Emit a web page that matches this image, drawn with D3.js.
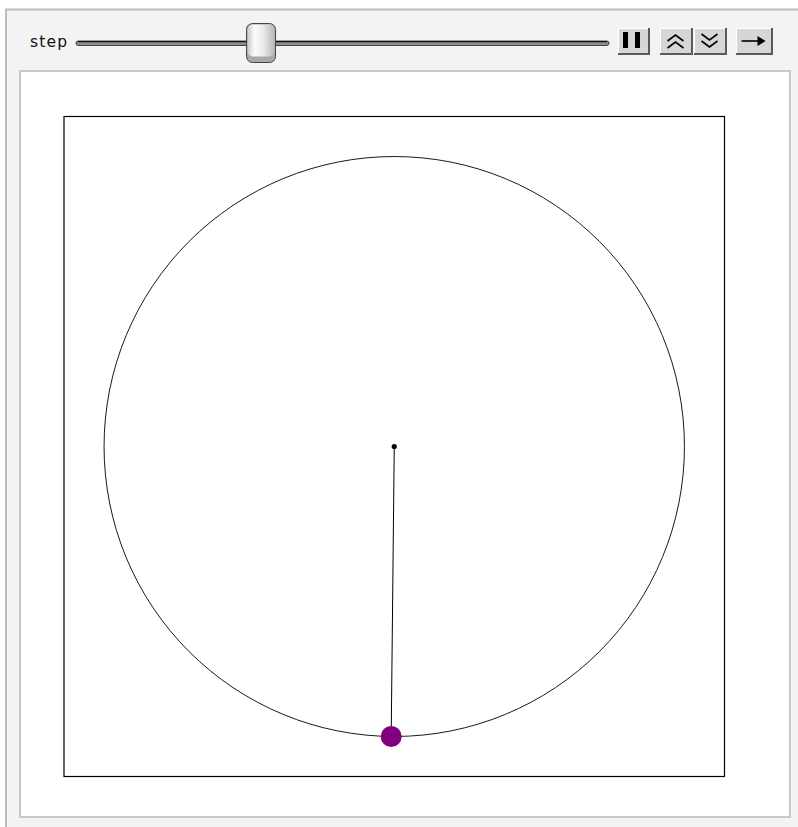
<!DOCTYPE html>
<html>
<head>
<meta charset="utf-8">
<script src="https://cdn.jsdelivr.net/npm/d3@7"></script>
<style>
    html, body { margin: 0; padding: 0; background: #ffffff; }
    svg { display: block; }
</style>
</head>
<body>
<div id="chart"></div>
<script>
// pendulum state
var pivot = [0, 0];
var rodLength = [1];
var bobAngle = [-0.0105];        // radians from straight down, negative = left
var plotRange = [-1.138, 1.138];
var stepRange = [0, 100];
var stepValue = [34];

var width = 798, height = 827;

var svg = d3.select('#chart')
    .append('svg')
    .attr('width', width)
    .attr('height', height);

// outer manipulate panel
svg.append('rect')
    .attr('x', 6)
    .attr('y', 9.5)
    .attr('width', 800)
    .attr('height', 830)
    .attr('fill', '#f3f3f3')
    .attr('stroke', '#bcbcbc')
    .attr('stroke-width', 2);

// control row
svg.append('text')
    .attr('x', 30)
    .attr('y', 47)
    .style('font-family', 'DejaVu Sans, sans-serif')
    .style('font-size', '15.5px')
    .attr('textLength', 37)
    .attr('fill', '#111')
    .text('step');

var defs = svg.append('defs');
var thumbGrad = defs.append('linearGradient')
    .attr('id', 'thumbGrad')
    .attr('x1', 0).attr('x2', 1).attr('y1', 0).attr('y2', 0);
thumbGrad.append('stop').attr('offset', '0%').attr('stop-color', '#c9c9c9');
thumbGrad.append('stop').attr('offset', '25%').attr('stop-color', '#fafafa');
thumbGrad.append('stop').attr('offset', '55%').attr('stop-color', '#ececec');
thumbGrad.append('stop').attr('offset', '100%').attr('stop-color', '#b8b8b8');

var slider = d3.scaleLinear()
    .domain(stepRange)
    .range([89, 595]);

svg.append('rect')
    .attr('x', 76)
    .attr('y', 41)
    .attr('width', 533)
    .attr('height', 4.5)
    .attr('rx', 2.2)
    .attr('fill', '#8e8e8e')
    .attr('stroke', '#222')
    .attr('stroke-width', 0.8);
svg.append('line')
    .attr('x1', 78).attr('x2', 607)
    .attr('y1', 41.6).attr('y2', 41.6)
    .attr('stroke', '#111')
    .attr('stroke-width', 1.2);

var thumbX = slider(stepValue[0]);
var thumb = svg.append('g')
    .attr('transform', 'translate(' + (thumbX - 15) + ',23)');
thumb.append('rect')
    .attr('x', 0.5).attr('y', 0.5)
    .attr('width', 29).attr('height', 39)
    .attr('rx', 6)
    .attr('fill', '#a9a9a9')
    .attr('stroke', '#444')
    .attr('stroke-width', 1);
thumb.append('rect')
    .attr('x', 1.5).attr('y', 1.5)
    .attr('width', 27).attr('height', 32)
    .attr('rx', 5)
    .attr('fill', 'url(#thumbGrad)');

// buttons
var buttons = [
    { x: 618, w: 32, icon: 'pause' },
    { x: 660, w: 33, icon: 'up' },
    { x: 694, w: 33, icon: 'down' },
    { x: 736, w: 37, icon: 'arrow' }
];
var btn = svg.selectAll('g.btn')
    .data(buttons)
    .enter()
    .append('g')
    .attr('class', 'btn')
    .attr('transform', function (d) { return 'translate(' + d.x + ',28)'; });
btn.append('rect')
    .attr('width', function (d) { return d.w; })
    .attr('height', 27)
    .attr('fill', '#5a5a5a');
btn.append('rect')
    .attr('width', function (d) { return d.w - 2; })
    .attr('height', 25)
    .attr('fill', '#ffffff');
btn.append('rect')
    .attr('x', 1).attr('y', 1)
    .attr('width', function (d) { return d.w - 3; })
    .attr('height', 24)
    .attr('fill', '#d6d6d6');
btn.each(function (d) {
    var g = d3.select(this);
    var cx = d.w / 2 - 1;
    if (d.icon === 'pause') {
        g.append('rect').attr('x', 5).attr('y', 4).attr('width', 5).attr('height', 16).attr('fill', '#000');
        g.append('rect').attr('x', 17).attr('y', 4).attr('width', 5).attr('height', 16).attr('fill', '#000');
    } else if (d.icon === 'up' || d.icon === 'down') {
        var s = d.icon === 'up' ? 1 : -1;
        var my = 13;
        [-4, 3].forEach(function (o) {
            g.append('path')
                .attr('d', 'M' + (cx - 8) + ',' + (my + s * (o + 4)) + 'L' + cx + ',' + (my + s * (o - 2)) + 'L' + (cx + 8) + ',' + (my + s * (o + 4)))
                .attr('fill', 'none')
                .attr('stroke', '#000')
                .attr('stroke-width', 1.6);
        });
    } else {
        g.append('line')
            .attr('x1', cx - 12).attr('x2', cx + 8)
            .attr('y1', 13).attr('y2', 13)
            .attr('stroke', '#000').attr('stroke-width', 1.6);
        g.append('path')
            .attr('d', 'M' + (cx + 4) + ',8L' + (cx + 12) + ',13L' + (cx + 4) + ',18Z')
            .attr('fill', '#000');
    }
});

// inner content panel
svg.append('rect')
    .attr('x', 20)
    .attr('y', 71)
    .attr('width', 770)
    .attr('height', 746)
    .attr('fill', '#ffffff')
    .attr('stroke', '#c8c8c8')
    .attr('stroke-width', 2);

// plot
var x = d3.scaleLinear().domain(plotRange).range([64, 724.5]);
var y = d3.scaleLinear().domain(plotRange).range([776.5, 116.5]);

var plot = svg.append('g');

plot.append('rect')
    .attr('x', x(plotRange[0]))
    .attr('y', y(plotRange[1]))
    .attr('width', x(plotRange[1]) - x(plotRange[0]))
    .attr('height', y(plotRange[0]) - y(plotRange[1]))
    .attr('fill', 'none')
    .attr('stroke', '#000')
    .attr('stroke-width', 1.2);

plot.append('ellipse')
    .attr('cx', x(pivot[0]))
    .attr('cy', y(pivot[1]))
    .attr('rx', x(rodLength[0]) - x(0))
    .attr('ry', y(0) - y(rodLength[0]))
    .attr('fill', 'none')
    .attr('stroke', '#000')
    .attr('stroke-width', 0.9);

var bob = bobAngle.map(function (a) {
    return [pivot[0] + rodLength[0] * Math.sin(a), pivot[1] - rodLength[0] * Math.cos(a)];
});

plot.append('line')
    .attr('x1', x(pivot[0]))
    .attr('y1', y(pivot[1]))
    .attr('x2', x(bob[0][0]))
    .attr('y2', y(bob[0][1]))
    .attr('stroke', '#000')
    .attr('stroke-width', 1);

plot.append('circle')
    .attr('cx', x(pivot[0]))
    .attr('cy', y(pivot[1]))
    .attr('r', 2.6)
    .attr('fill', '#000');

plot.selectAll('circle.bob')
    .data(bob)
    .enter()
    .append('circle')
    .attr('class', 'bob')
    .attr('cx', function (d) { return x(d[0]); })
    .attr('cy', function (d) { return y(d[1]); })
    .attr('r', 10.5)
    .attr('fill', '#800080');
</script>
</body>
</html>
